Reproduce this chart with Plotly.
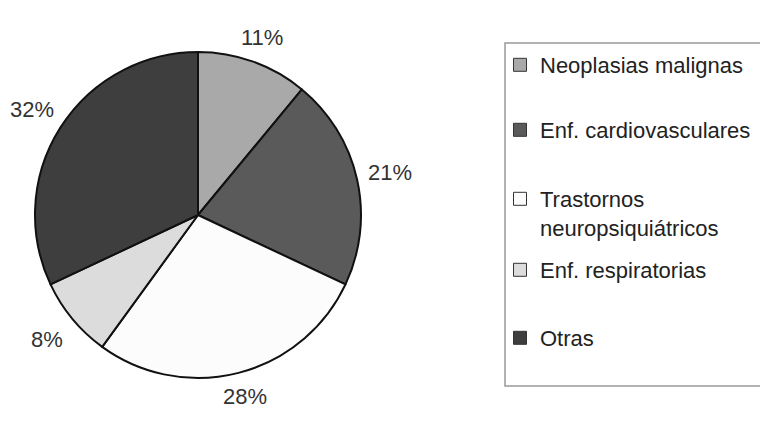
import math
import plotly.graph_objects as go

# ---- data ----
categories = ["Neoplasias malignas", "Enf. cardiovasculares",
              "Trastornos neuropsiquiátricos", "Enf. respiratorias", "Otras"]
legend_labels = ["Neoplasias malignas", "Enf. cardiovasculares",
                 "Trastornos<br>neuropsiquiátricos", "Enf. respiratorias", "Otras"]
values = [11, 21, 28, 8, 32]
colors = ["#a9a9a9", "#5a5a5a", "#fcfcfc", "#dcdcdc", "#3e3e3e"]

# figure size (page body adds an 8px margin inside the 768x422 window)
W, H = 760, 414
FONT = "Liberation Sans, Arial, sans-serif"
CX, CY, R = 190, 207, 163          # pie centre / radius in figure pixels

fig = go.Figure()
fig.add_trace(go.Pie(
    values=values, labels=categories, sort=False, direction="clockwise", rotation=0,
    marker=dict(colors=colors, line=dict(color="#111111", width=2)),
    textinfo="none",
    domain=dict(x=[(CX - R) / W, (CX + R) / W], y=[1 - (CY + R) / H, 1 - (CY - R) / H]),
    showlegend=False, hoverinfo="label+value",
))

# percentage labels outside each slice, placed at the slice's mid-angle
total = sum(values)
annotations = []
cum = 0
for v in values:
    mid = 2 * math.pi * (cum + v / 2) / total
    cum += v
    s, c = math.sin(mid), math.cos(mid)
    d = R + 10 + abs(s) * 22.5 + abs(c) * 9
    annotations.append(dict(
        x=(CX + d * s) / W, y=1 - (CY - d * c) / H, xref="paper", yref="paper",
        text=f"{v}%", showarrow=False, xanchor="center", yanchor="middle",
        font=dict(size=22, color="#333333", family=FONT),
    ))

# legend entries (one small legend per entry to reproduce the uneven spacing)
legend_centers = [57, 122, 205.5, 262, 330]
layout_legends = {}
for i, (lab, col) in enumerate(zip(legend_labels, colors)):
    lid = "legend" if i == 0 else f"legend{i + 1}"
    fig.add_trace(go.Scatter(
        x=[None], y=[None], mode="markers", name=lab, legend=lid,
        marker=dict(symbol="square", size=13, color=col, line=dict(color="#333333", width=1)),
        hoverinfo="skip",
    ))
    layout_legends[lid] = dict(
        x=492 / W, xanchor="left", y=1 - legend_centers[i] / H, yanchor="middle",
        bgcolor="rgba(0,0,0,0)", borderwidth=0, valign="top",
        font=dict(size=22, color="#222222", family=FONT),
        itemclick=False, itemdoubleclick=False,
    )

fig.update_layout(
    width=W, height=H, margin=dict(l=0, r=0, t=0, b=0),
    paper_bgcolor="white", plot_bgcolor="white",
    xaxis=dict(visible=False), yaxis=dict(visible=False),
    annotations=annotations,
    shapes=[dict(type="rect", xref="paper", yref="paper",
                 x0=497 / W, x1=754 / W, y0=1 - 378 / H, y1=1 - 35 / H,
                 line=dict(color="#999999", width=1.5), fillcolor="rgba(0,0,0,0)", layer="below")],
    **layout_legends,
)

fig.write_html("out.html")
